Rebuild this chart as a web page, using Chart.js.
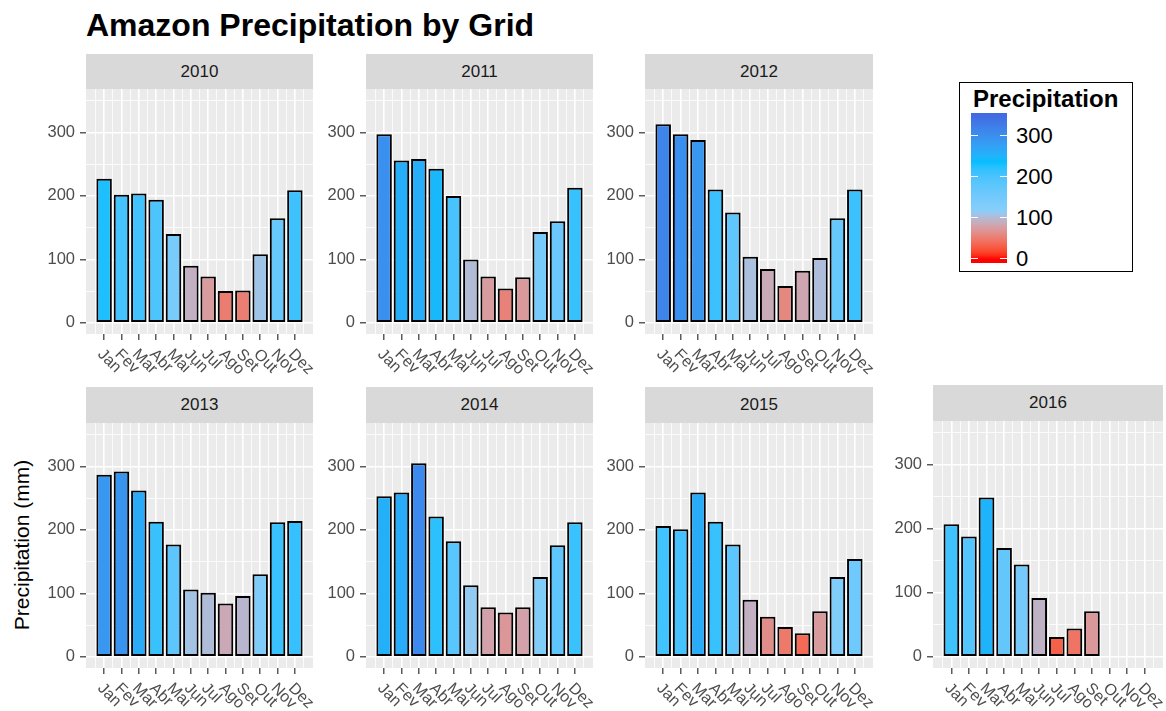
<!DOCTYPE html>
<html>
<head>
<meta charset="utf-8">
<script src="https://cdn.jsdelivr.net/npm/chart.js@4/dist/chart.umd.min.js"></script>
<style>
html,body{margin:0;padding:0;background:#fff;}
#root{position:relative;width:1166px;height:711px;overflow:hidden;font-family:"Liberation Sans",Arial,Helvetica,sans-serif;}
.strip{position:absolute;background:#D9D9D9;color:#1A1A1A;font-size:17px;display:flex;align-items:center;justify-content:center;}
canvas{position:absolute;}
.abs{position:absolute;white-space:nowrap;}
</style>
</head>
<body>
<div id="root"></div>
<script>
// ---------- data ----------
const months = ['Jan','Fev','Mar','Abr','Mai','Jun','Jul','Ago','Set','Out','Nov','Dez'];
const years = ['2010','2011','2012','2013','2014','2015','2016'];
const p2010 = [227, 202, 204, 194, 140, 90, 73, 50, 51, 108, 165, 209];
const p2011 = [297, 256, 258, 243, 200, 100, 73, 54, 72, 143, 160, 213];
const p2012 = [313, 297, 288, 210, 174, 104, 85, 58, 82, 102, 165, 210];
const p2013 = [287, 292, 262, 213, 177, 106, 101, 84, 96, 130, 212, 214];
const p2014 = [253, 259, 305, 221, 182, 113, 78, 70, 78, 126, 176, 212];
const p2015 = [206, 201, 259, 213, 177, 90, 63, 47, 37, 72, 126, 154];
const p2016 = [207, 188, 249, 170, 144, 92, 31, 44, 71, null, null, null];
const seriesByYear = [p2010, p2011, p2012, p2013, p2014, p2015, p2016];
const yTickValues = [0, 100, 200, 300];
const yMinorValues = [50, 150, 250, 350];
const legendTickValues = [0, 100, 200, 300];

// ---------- style / layout ----------
const FONT = '"Liberation Sans", Arial, Helvetica, sans-serif';
const paletteColours = ['#FF0000', '#87CEFA', '#00BFFF', '#4169E1'];
const fillLimits = [0, 350];
const X_MIN = -0.045, X_MAX = 13.045;
const Y_MIN = -17.6, Y_MAX = 368.5;
const PAD_L = 50, PAD_B = 50, PAD_R = 30;
const panelBoxes = [
  {x: 86,  top: 89,  w: 227, h: 245, stripTop: 54},
  {x: 366, top: 89,  w: 227, h: 245, stripTop: 54},
  {x: 645, top: 89,  w: 228, h: 245, stripTop: 54},
  {x: 86,  top: 423, w: 227, h: 245, stripTop: 387},
  {x: 366, top: 423, w: 227, h: 245, stripTop: 387},
  {x: 645, top: 423, w: 228, h: 245, stripTop: 387},
  {x: 933, top: 421, w: 230, h: 247, stripTop: 385}
];

// ---------- colour ramp (CIELAB interpolation like ggplot) ----------
function toLin(c){c/=255;return c<=0.04045?c/12.92:Math.pow((c+0.055)/1.055,2.4);}
function fromLin(c){const v=c<=0.0031308?12.92*c:1.055*Math.pow(c,1/2.4)-0.055;return Math.round(Math.max(0,Math.min(1,v))*255);}
function hexToLab(hex){
  const r=toLin(parseInt(hex.substr(1,2),16)),g=toLin(parseInt(hex.substr(3,2),16)),b=toLin(parseInt(hex.substr(5,2),16));
  const X=(0.4124564*r+0.3575761*g+0.1804375*b)/0.95047;
  const Y=(0.2126729*r+0.7151522*g+0.0721750*b);
  const Z=(0.0193339*r+0.1191920*g+0.9503041*b)/1.08883;
  const f=t=>t>0.008856?Math.cbrt(t):7.787*t+16/116;
  const fx=f(X),fy=f(Y),fz=f(Z);
  return [116*fy-16,500*(fx-fy),200*(fy-fz)];
}
function labToRgb(L,a,b){
  const fy=(L+16)/116,fx=fy+a/500,fz=fy-b/200;
  const inv=t=>{const t3=t*t*t;return t3>0.008856?t3:(t-16/116)/7.787;};
  const X=0.95047*inv(fx),Y=inv(fy),Z=1.08883*inv(fz);
  const r=3.2404542*X-1.5371385*Y-0.4985314*Z;
  const g=-0.9692660*X+1.8760108*Y+0.0415560*Z;
  const bb=0.0556434*X-0.2040259*Y+1.0572252*Z;
  return 'rgb('+fromLin(r)+','+fromLin(g)+','+fromLin(bb)+')';
}
const paletteLab = paletteColours.map(hexToLab);
function colourFor(v){
  let t=(v-fillLimits[0])/(fillLimits[1]-fillLimits[0]);
  t=Math.max(0,Math.min(1,t));
  const n=paletteLab.length-1;
  const seg=t*n;const i=Math.min(n-1,Math.floor(seg));const f=seg-i;
  const A=paletteLab[i],B=paletteLab[i+1];
  return labToRgb(A[0]+(B[0]-A[0])*f,A[1]+(B[1]-A[1])*f,A[2]+(B[2]-A[2])*f);
}

// ---------- page ----------
const root = document.getElementById('root');
function addDiv(cls, css, text){
  const d=document.createElement('div');d.className=cls;d.style.cssText=css;if(text!==undefined)d.textContent=text;root.appendChild(d);return d;
}
addDiv('abs','left:86px;top:9px;font-size:32px;font-weight:bold;line-height:32px;color:#000;','Amazon Precipitation by Grid');
addDiv('abs','left:-78px;top:533px;width:200px;height:24px;line-height:24px;text-align:center;font-size:21px;color:#000;transform:rotate(-90deg);','Precipitation (mm)');

// legend
addDiv('abs','left:959px;top:82px;width:174px;height:190px;border:1.6px solid #000;box-sizing:border-box;background:#fff;');
addDiv('abs','left:973px;top:87px;font-size:24px;font-weight:bold;line-height:24px;color:#000;','Precipitation');
const barTop=113, barBot=263, barLeft=971, barW=36;
const zeroY=258.5, pxPerUnit=0.411;
const stops=[];
for(let k=0;k<=40;k++){
  const y=barTop+(barBot-barTop)*k/40;
  const v=(zeroY-y)/pxPerUnit;
  stops.push(colourFor(v)+' '+(k*2.5)+'%');
}
addDiv('abs','left:'+barLeft+'px;top:'+barTop+'px;width:'+barW+'px;height:'+(barBot-barTop)+'px;background:linear-gradient(to bottom,'+stops.join(',')+');');
legendTickValues.forEach(v=>{
  const y=zeroY-v*pxPerUnit;
  addDiv('abs','left:'+barLeft+'px;top:'+(y-0.5)+'px;width:7px;height:1px;background:#fff;');
  addDiv('abs','left:'+(barLeft+barW-7)+'px;top:'+(y-0.5)+'px;width:7px;height:1px;background:#fff;');
  addDiv('abs','left:1016px;top:'+(y-10.7)+'px;font-size:22px;line-height:22px;color:#000;',String(v));
});

// ---------- charts ----------
Chart.defaults.font.family = FONT;
const bgPlugin = {
  id:'panelBg',
  beforeDraw(chart){
    const a=chart.chartArea,ctx=chart.ctx;
    ctx.save();ctx.fillStyle='#EBEBEB';ctx.fillRect(a.left,a.top,a.right-a.left,a.bottom-a.top);ctx.restore();
  }
};
const xLabelPlugin = {
  id:'xLabels',
  afterDraw(chart){
    const xs=chart.scales.x,ctx=chart.ctx,top=chart.chartArea.bottom+13;
    const size=16,c=0.716*size*Math.SQRT1_2;
    ctx.save();
    ctx.font=size+'px '+FONT;ctx.fillStyle='#4D4D4D';ctx.textAlign='left';ctx.textBaseline='alphabetic';
    months.forEach((m,i)=>{
      const px=xs.getPixelForValue(i+1);
      ctx.save();ctx.translate(px-c+1,top+c);ctx.rotate(Math.PI/4);ctx.fillText(m,0,0);ctx.restore();
    });
    ctx.restore();
  }
};

years.forEach((yr,idx)=>{
  const box=panelBoxes[idx];
  addDiv('strip','left:'+box.x+'px;top:'+box.stripTop+'px;width:'+box.w+'px;height:'+(box.top-box.stripTop)+'px;',yr);
  const padR=Math.min(PAD_R,1166-(box.x+box.w));
  const cv=document.createElement('canvas');
  const W=PAD_L+box.w+padR,H=box.h+PAD_B;
  cv.width=W;cv.height=H;cv.style.left=(box.x-PAD_L)+'px';cv.style.top=box.top+'px';cv.style.width=W+'px';cv.style.height=H+'px';
  root.appendChild(cv);
  const vals=seriesByYear[idx];
  const pts=[],cols=[];
  vals.forEach((v,i)=>{if(v!==null){pts.push({x:i+1,y:v});cols.push(colourFor(v));}});
  new Chart(cv,{
    type:'bar',
    data:{datasets:[{data:pts,backgroundColor:cols,borderColor:'#000',borderWidth:2,borderSkipped:false,barPercentage:0.89,categoryPercentage:1}]},
    options:{
      responsive:false,animation:false,devicePixelRatio:1,
      layout:{padding:{left:0,right:padR,top:0,bottom:0},autoPadding:false},
      plugins:{legend:{display:false},tooltip:{enabled:false}},
      scales:{
        x:{type:'linear',position:'bottom',min:X_MIN,max:X_MAX,bounds:'data',offset:false,
          afterBuildTicks:s=>{s.ticks=months.map((m,i)=>({value:i+1}));},
          afterFit:s=>{s.height=PAD_B;s.paddingLeft=0;s.paddingRight=0;},
          ticks:{display:false},
          grid:{color:'#FFFFFF',lineWidth:1.6,drawTicks:true,tickLength:6,tickColor:'#333333',tickWidth:1.2,offset:false},
          border:{display:false}},
        xm:{type:'linear',position:'bottom',min:X_MIN,max:X_MAX,bounds:'data',offset:false,
          afterBuildTicks:s=>{s.ticks=months.concat(['']).map((m,i)=>({value:i+0.5}));},
          afterFit:s=>{s.height=0;s.paddingLeft=0;s.paddingRight=0;},
          ticks:{display:false},
          grid:{color:'#FFFFFF',lineWidth:0.8,drawTicks:false,offset:false},
          border:{display:false}},
        y:{type:'linear',position:'left',min:Y_MIN,max:Y_MAX,bounds:'data',
          afterBuildTicks:s=>{s.ticks=yTickValues.map(v=>({value:v}));},
          afterFit:s=>{s.width=PAD_L;s.paddingTop=0;s.paddingBottom=0;},
          ticks:{font:{family:FONT,size:16.5},color:'#4D4D4D',padding:5,autoSkip:false},
          grid:{color:'#FFFFFF',lineWidth:1.6,drawTicks:true,tickLength:6,tickColor:'#333333',tickWidth:1.2},
          border:{display:false}},
        ym:{type:'linear',position:'left',min:Y_MIN,max:Y_MAX,bounds:'data',
          afterBuildTicks:s=>{s.ticks=yMinorValues.map(v=>({value:v}));},
          afterFit:s=>{s.width=0;s.paddingTop=0;s.paddingBottom=0;},
          ticks:{display:false},
          grid:{color:'#FFFFFF',lineWidth:0.8,drawTicks:false},
          border:{display:false}}
      }
    },
    plugins:[bgPlugin,xLabelPlugin]
  });
});
</script>
</body>
</html>
